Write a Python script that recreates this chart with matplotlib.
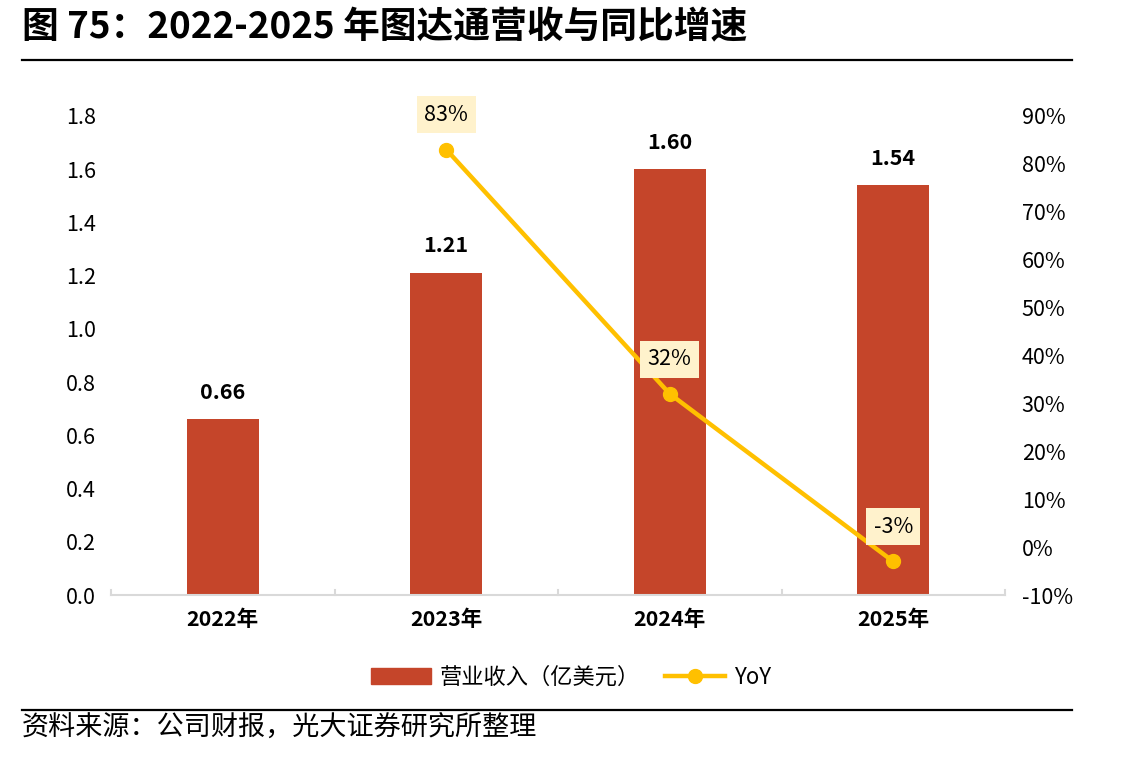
import matplotlib
matplotlib.use('Agg')
import matplotlib.pyplot as plt
import numpy as np
from matplotlib.lines import Line2D
from matplotlib.patches import Patch

plt.rcParams['font.family'] = ['Noto Sans CJK SC', 'DejaVu Sans']
plt.rcParams['axes.unicode_minus'] = False

# 数据
years = ['2022年', '2023年', '2024年', '2025年']
revenue = [0.66, 1.21, 1.60, 1.54]  # 亿美元
yoy = [None, 83, 32, -3]  # %
left_ticks = [0.0, 0.2, 0.4, 0.6, 0.8, 1.0, 1.2, 1.4, 1.6, 1.8]
right_ticks = [-10, 0, 10, 20, 30, 40, 50, 60, 70, 80, 90]

bar_color = '#C5452A'
line_color = '#FFC000'
box_color = '#FFF2CC'
grid_color = '#D9D9D9'

fig = plt.figure(figsize=(11.42, 7.57), dpi=100)
ax = fig.add_axes([111 / 1142, 1 - 595 / 757, (1005 - 111) / 1142, (595 - 116) / 757])
ax2 = ax.twinx()

x = np.arange(len(years))
ax.bar(x, revenue, width=0.32, color=bar_color, zorder=2)
ax.set_xlim(-0.5, len(years) - 0.5)
ax.set_ylim(0, 1.8)
ax.set_yticks(left_ticks)
ax.set_yticklabels([f'{v:.1f}' for v in left_ticks])
ax.set_xticks(x)
ax.set_xticklabels(years, fontsize=15.5, fontweight='bold')
ax.tick_params(axis='x', length=0, pad=10)
ax.tick_params(axis='y', length=0, pad=11, labelsize=15.5)

for v, xi in zip(revenue, x):
    ax.annotate(f'{v:.2f}', (xi, v), xytext=(0, 12), textcoords='offset points',
                ha='center', va='bottom', fontsize=15.5, fontweight='bold')

# 类别分隔的小刻度
for b in np.arange(-0.5, len(years), 1.0):
    ax.plot([b, b], [0, 0.02], color=grid_color, lw=1.5, zorder=1, clip_on=False)

for a in (ax, ax2):
    for s in a.spines.values():
        s.set_visible(False)
ax.spines['bottom'].set_visible(True)
ax.spines['bottom'].set_color(grid_color)
ax.spines['bottom'].set_linewidth(1.5)

# 同比折线
yx = [xi for xi, v in zip(x, yoy) if v is not None]
yv = [v for v in yoy if v is not None]
ax2.plot(yx, yv, color=line_color, lw=3.2, marker='o', markersize=10, zorder=3)
ax2.set_ylim(-10, 90)
ax2.set_yticks(right_ticks)
ax2.set_yticklabels([f'{v}%' for v in right_ticks])
ax2.tick_params(axis='y', length=0, pad=12, labelsize=15.5)

for xi, v in zip(yx, yv):
    ax2.annotate(f'{v}%', (xi, v), xytext=(0, 25), textcoords='offset points',
                 ha='center', va='center', fontsize=15.5,
                 bbox=dict(boxstyle='square,pad=0.35', fc=box_color, ec='none'))

# 标题与分隔线
fig.text(22 / 1142, 1 - 28 / 757, '图 75：2022-2025 年图达通营收与同比增速',
         fontsize=26.5, fontweight='bold', ha='left', va='center')
fig.add_artist(Line2D([22 / 1142, 1072 / 1142], [1 - 60 / 757, 1 - 60 / 757],
                      color='black', lw=1.6))
fig.add_artist(Line2D([22 / 1142, 1072 / 1142], [1 - 710 / 757, 1 - 710 / 757],
                      color='black', lw=1.6))
fig.text(22 / 1142, 1 - 728 / 757, '资料来源：公司财报，光大证券研究所整理',
         fontsize=19.5, ha='left', va='center')

# 图例
handles = [Patch(color=bar_color),
           Line2D([0], [0], color=line_color, lw=3.2, marker='o', markersize=10)]
fig.legend(handles, ['营业收入（亿美元）', 'YoY'], loc='center',
           bbox_to_anchor=(0.5, 1 - 677 / 757), ncol=2, frameon=False,
           fontsize=16, handlelength=2.7, handleheight=0.7, columnspacing=1.1,
           handletextpad=0.4)

fig.savefig('out.png', dpi=100)
